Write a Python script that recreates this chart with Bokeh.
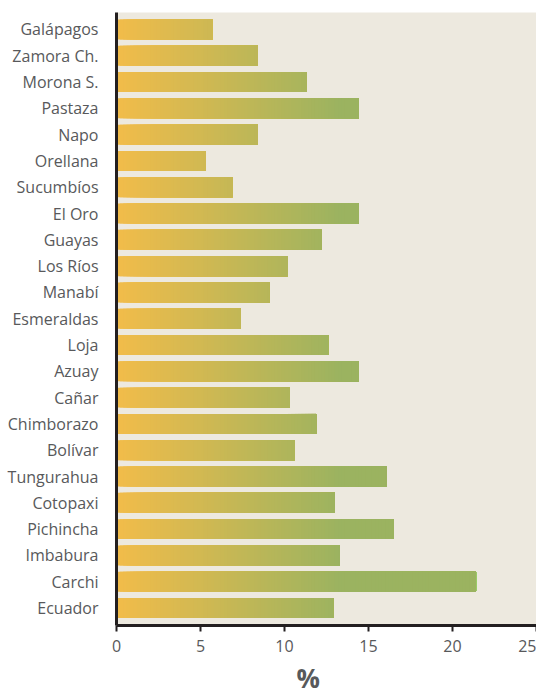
from bokeh.plotting import figure
from bokeh.models import ColumnDataSource, Range1d, FixedTicker, Title
from bokeh.embed import file_html
from bokeh.resources import INLINE

# ---- data (top to bottom as in the reference) ----
provinces = ["Galápagos", "Zamora Ch.", "Morona S.", "Pastaza", "Napo", "Orellana",
             "Sucumbíos", "El Oro", "Guayas", "Los Ríos", "Manabí", "Esmeraldas",
             "Loja", "Azuay", "Cañar", "Chimborazo", "Bolívar", "Tungurahua",
             "Cotopaxi", "Pichincha", "Imbabura", "Carchi", "Ecuador"]
values = [5.7, 8.4, 11.3, 14.4, 8.4, 5.3, 6.9, 14.4, 12.2, 10.2, 9.1, 7.4,
          12.6, 14.4, 10.3, 11.9, 10.6, 16.1, 13.0, 16.5, 13.3, 21.4, 12.9]
x_ticks = [0, 5, 10, 15, 20, 25]
x_label = "%"

# ---- gradient styling (colour depends on x position) ----
c_start = (242, 188, 74)
c_end = (155, 179, 96)
grad_end = 13.3
step = 0.2

def grad_color(x):
    t = min(max(x / grad_end, 0.0), 1.0)
    r = round(c_start[0] + (c_end[0] - c_start[0]) * t)
    g = round(c_start[1] + (c_end[1] - c_start[1]) * t)
    b = round(c_start[2] + (c_end[2] - c_start[2]) * t)
    return "#%02x%02x%02x" % (r, g, b)

n = len(provinces)
ys = [n - 1 - i for i in range(n)]

seg_y, seg_left, seg_right, seg_col = [], [], [], []
for y, v in zip(ys, values):
    k = 0
    while k * step < v:
        x0 = k * step
        seg_y.append(y)
        seg_left.append(x0)
        seg_right.append(v)
        seg_col.append(grad_color(x0 + step / 2))
        k += 1

src = ColumnDataSource(dict(y=seg_y, left=seg_left, right=seg_right, color=seg_col))

p = figure(frame_width=420, frame_height=613,
           x_range=Range1d(0, 25), y_range=Range1d(-0.665, n - 1 + 0.645),
           output_backend="svg", toolbar_location=None,
           min_border_left=116, min_border_right=0, min_border_top=12,
           min_border_bottom=0,
           background_fill_color="#ede9df", border_fill_color="white")
p.outline_line_color = None
p.grid.visible = False

p.hbar(y="y", left="left", right="right", height=0.76, fill_color="color",
       line_color=None, source=src)

font = "Open Sans"
# y axis
p.yaxis.ticker = FixedTicker(ticks=ys)
p.yaxis.major_label_overrides = {y: name for y, name in zip(ys, provinces)}
p.yaxis.axis_line_width = 3
p.yaxis.axis_line_color = "#231f20"
p.yaxis.major_tick_line_color = None
p.yaxis.minor_tick_line_color = None
p.yaxis.major_label_text_font = font
p.yaxis.major_label_text_font_size = "16px"
p.yaxis.major_label_text_color = "#58595b"
p.yaxis.major_label_standoff = 12

# x axis
p.xaxis.ticker = FixedTicker(ticks=x_ticks)
p.xaxis.axis_line_width = 3
p.xaxis.axis_line_color = "#231f20"
p.xaxis.major_tick_line_width = 2
p.xaxis.major_tick_line_color = "#231f20"
p.xaxis.major_tick_in = 0
p.xaxis.major_tick_out = 6
p.xaxis.minor_tick_line_color = None
p.xaxis.major_label_text_font = font
p.xaxis.major_label_text_font_size = "16px"
p.xaxis.major_label_text_color = "#58595b"
p.xaxis.major_label_standoff = 8

t = Title(text=x_label, align="left", offset=180, standoff=6,
          text_font=font, text_font_size="26px", text_font_style="bold",
          text_color="#58595b")
p.add_layout(t, "below")

open("out.html", "w").write(file_html(p, INLINE))
